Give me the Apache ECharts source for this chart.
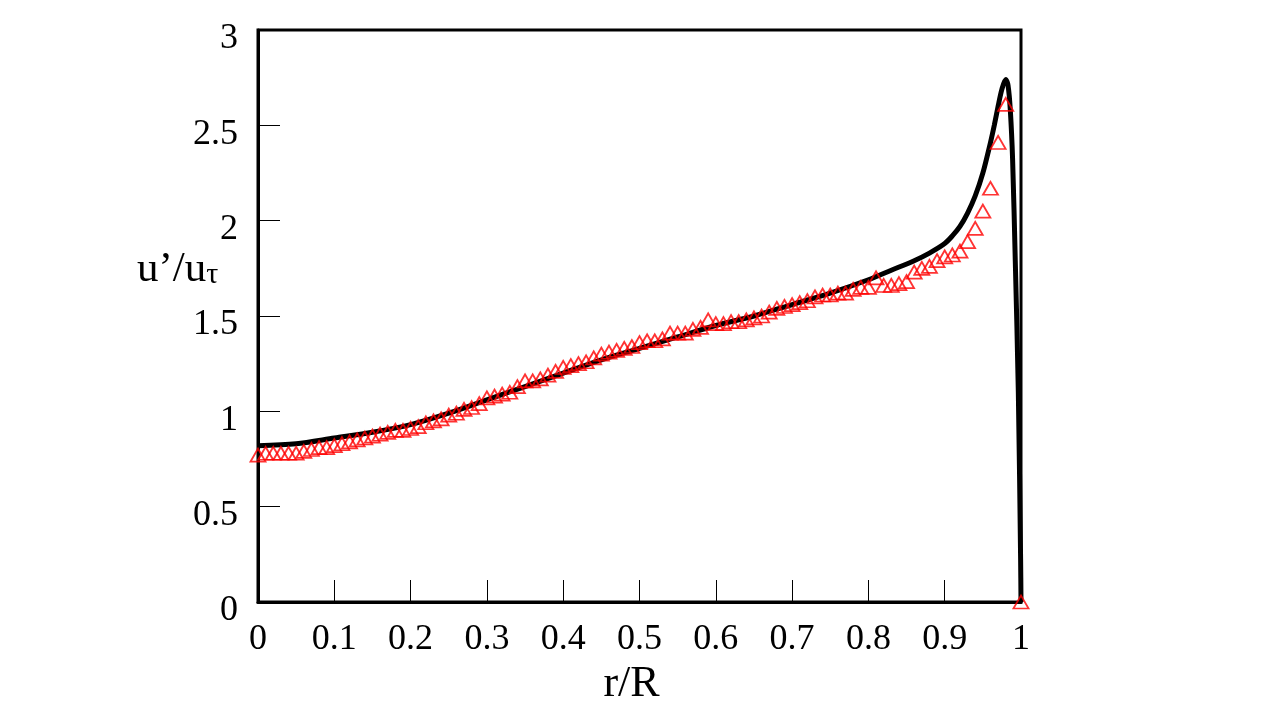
<!DOCTYPE html>
<html>
<head>
<meta charset="utf-8">
<script src="https://cdn.jsdelivr.net/npm/echarts@6/dist/echarts.min.js"></script>
<style>
  html, body { margin: 0; padding: 0; background: #fff; }
  #chart { width: 1280px; height: 720px; }
</style>
</head>
<body>
<div id="chart"></div>
<script>
// simulation curve (black line)
var lineR = [0, 0.05, 0.1, 0.15, 0.2, 0.25, 0.3, 0.35, 0.4, 0.45, 0.5, 0.55, 0.6, 0.65, 0.7, 0.75,
  0.8, 0.83, 0.86, 0.88, 0.9, 0.91, 0.92, 0.93, 0.94, 0.95, 0.96, 0.965, 0.97, 0.975, 0.98, 0.983,
  0.986, 0.989, 0.9925, 0.9965, 0.9995, 1.0];
var lineV = [0.82, 0.83, 0.86, 0.89, 0.93, 0.99, 1.06, 1.13, 1.20, 1.27, 1.33, 1.39, 1.45, 1.50, 1.56, 1.62,
  1.69, 1.74, 1.79, 1.83, 1.88, 1.92, 1.97, 2.04, 2.13, 2.25, 2.41, 2.50, 2.60, 2.69, 2.74, 2.71,
  2.58, 2.32, 1.79, 1.10, 0.22, 0.0];

// measured points (red triangles)
var markR = [0, 0.01, 0.02, 0.03, 0.04, 0.05, 0.06, 0.07, 0.08, 0.09,
  0.1, 0.11, 0.12, 0.13, 0.14, 0.15, 0.16, 0.17, 0.18, 0.19,
  0.2, 0.21, 0.22, 0.23, 0.24, 0.25, 0.26, 0.27, 0.28, 0.29,
  0.3, 0.31, 0.32, 0.33, 0.34, 0.35, 0.36, 0.37, 0.38, 0.39,
  0.4, 0.41, 0.42, 0.43, 0.44, 0.45, 0.46, 0.47, 0.48, 0.49,
  0.5, 0.51, 0.52, 0.53, 0.54, 0.55, 0.56, 0.57, 0.58, 0.59,
  0.6, 0.61, 0.62, 0.63, 0.64, 0.65, 0.66, 0.67, 0.68, 0.69,
  0.7, 0.71, 0.72, 0.73, 0.74, 0.75, 0.76, 0.77, 0.78, 0.79,
  0.8, 0.81, 0.82, 0.83, 0.84, 0.85, 0.86, 0.87, 0.88, 0.89,
  0.9, 0.91, 0.92, 0.93, 0.94, 0.95, 0.96, 0.97, 0.98, 1.0];
var markV = [0.77, 0.78, 0.78, 0.78, 0.78, 0.78, 0.79, 0.80, 0.81, 0.81,
  0.82, 0.83, 0.84, 0.85, 0.86, 0.87, 0.88, 0.89, 0.90, 0.90,
  0.91, 0.92, 0.94, 0.95, 0.96, 0.98, 0.99, 1.01, 1.02, 1.04,
  1.07, 1.08, 1.09, 1.10, 1.13, 1.16, 1.16, 1.17, 1.19, 1.21,
  1.23, 1.24, 1.25, 1.26, 1.28, 1.30, 1.31, 1.32, 1.33, 1.34,
  1.36, 1.37, 1.37, 1.38, 1.41, 1.41, 1.41, 1.43, 1.44, 1.48,
  1.46, 1.46, 1.47, 1.47, 1.48, 1.49, 1.50, 1.52, 1.54, 1.55,
  1.56, 1.57, 1.58, 1.60, 1.61, 1.61, 1.62, 1.62, 1.64, 1.65,
  1.65, 1.70, 1.66, 1.66, 1.67, 1.68, 1.73, 1.75, 1.76, 1.79,
  1.81, 1.82, 1.84, 1.89, 1.96, 2.05, 2.17, 2.41, 2.61, 0.0];

var xTicks = 0.1, yTicks = 0.5;
var font = '"Liberation Serif", "Times New Roman", serif';

function zip(a, b){
  var out = [];
  for(var i = 0; i < a.length; i++)
    out.push([a[i], b[i]]);
  return out;
}

var chart = echarts.init(document.getElementById('chart'));
var option = {
  backgroundColor: '#fff',
  animation: false,
  grid: {
    left: 258, right: 259, top: 30, bottom: 118,
    show: true, borderColor: '#000', borderWidth: 3, backgroundColor: 'transparent'
  },
  xAxis: {
    type: 'value', min: 0, max: 1, interval: xTicks,
    axisLine: { lineStyle: { color: '#000', width: 3 } },
    axisTick: { inside: true, length: 22, lineStyle: { color: '#000', width: 1 } },
    axisLabel: { color: '#000', fontSize: 36, fontFamily: font, margin: 20 },
    splitLine: { show: false },
    name: 'r/R', nameLocation: 'middle', nameGap: 48,
    nameTextStyle: { color: '#000', fontSize: 44, fontFamily: font, padding: [0, 16, 0, 0] }
  },
  yAxis: {
    type: 'value', min: 0, max: 3, interval: yTicks,
    axisLine: { lineStyle: { color: '#000', width: 3 } },
    axisTick: { inside: true, length: 22, lineStyle: { color: '#000', width: 1 } },
    axisLabel: {
      color: '#000', margin: 20,
      formatter: function (v) { return '{a|' + v + '}'; },
      rich: { a: { fontSize: 36, fontFamily: font, color: '#000', padding: [18, 0, 0, 0] } }
    },
    splitLine: { show: false }
  },
  graphic: [{
    type: 'text', left: 137, top: 248,
    style: {
      text: '{a|u’/u}{b|τ}',
      fill: '#000',
      rich: {
        a: { fontSize: 43, fontFamily: font, color: '#000' },
        b: { fontSize: 30, fontFamily: font, color: '#000', padding: [12, 0, 0, 0] }
      }
    }
  }],
  series: [
    {
      name: 'line', type: 'line', data: zip(lineR, lineV),
      showSymbol: false, smooth: 0.3,
      lineStyle: { color: '#000', width: 5 }, z: 2
    },
    {
      name: 'exp', type: 'scatter', data: zip(markR, markV),
      symbol: 'triangle', symbolSize: [15, 13],
      itemStyle: { color: 'rgba(0,0,0,0)', borderColor: '#ff0000', borderWidth: 1.8 },
      z: 3
    }
  ]
};
chart.setOption(option);
</script>
</body>
</html>
